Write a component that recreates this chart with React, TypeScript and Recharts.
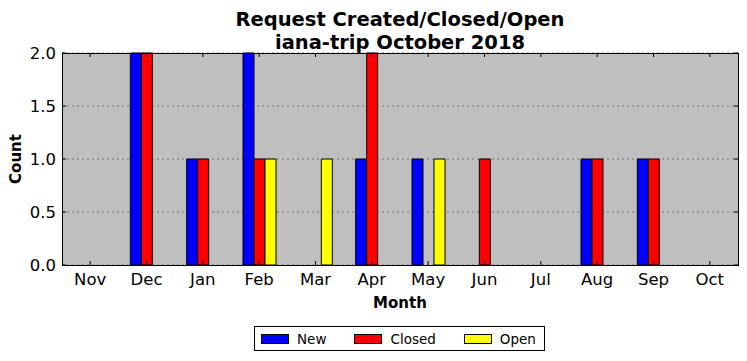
import { BarChart, Bar, XAxis, YAxis, CartesianGrid } from 'recharts';

const months = ['Nov', 'Dec', 'Jan', 'Feb', 'Mar', 'Apr', 'May', 'Jun', 'Jul', 'Aug', 'Sep', 'Oct'];
const newCounts = [0, 2, 1, 2, 0, 1, 1, 0, 0, 1, 1, 0];
const closedCounts = [0, 2, 1, 1, 0, 2, 0, 1, 0, 1, 1, 0];
const openCounts = [0, 0, 0, 1, 1, 0, 1, 0, 0, 0, 0, 0];
const yTicks = [0, 0.5, 1, 1.5, 2];

const SERIES = [
  { key: 'New', color: '#0000ff' },
  { key: 'Closed', color: '#ff0000' },
  { key: 'Open', color: '#ffff00' },
];

const W = 747;
const H = 361;
const PLOT_LEFT = 62;
const PLOT_TOP = 53;
const PLOT_W = 676;
const PLOT_H = 212;
const FONT = 'DejaVu Sans, sans-serif';

const data = months.map((m, i) => ({
  month: m,
  New: newCounts[i],
  Closed: closedCounts[i],
  Open: openCounts[i],
}));

function XTick({ x, y, payload }: any) {
  return (
    <g>
      <line x1={x} x2={x} y1={y} y2={y - 4} stroke="#000" />
      <line x1={x} x2={x} y1={y - PLOT_H} y2={y - PLOT_H + 4} stroke="#000" />
      <text x={x} y={y + 20} textAnchor="middle" fontSize={16.5} fontFamily={FONT} fill="#000">
        {payload.value}
      </text>
    </g>
  );
}

function YTick({ x, y, payload }: any) {
  return (
    <g>
      <line x1={x} x2={x + 4} y1={y} y2={y} stroke="#000" />
      <line x1={x + PLOT_W} x2={x + PLOT_W - 4} y1={y} y2={y} stroke="#000" />
      <text x={x - 6} y={y + 6} textAnchor="end" fontSize={16.5} fontFamily={FONT} fill="#000">
        {payload.value.toFixed(1)}
      </text>
    </g>
  );
}

export default function App() {
  return (
    <div style={{ position: 'absolute', left: 0, top: 0, width: W, height: H, background: '#fff', fontFamily: FONT }}>
      <div
        style={{
          position: 'absolute',
          left: PLOT_LEFT,
          width: PLOT_W,
          top: 8,
          textAlign: 'center',
          fontWeight: 'bold',
          fontSize: 19.5,
          lineHeight: '23px',
        }}
      >
        Request Created/Closed/Open
        <br />
        iana-trip October 2018
      </div>
      <div
        style={{
          position: 'absolute',
          left: 16,
          top: 159,
          transform: 'translate(-50%, -50%) rotate(-90deg)',
          fontWeight: 'bold',
          fontSize: 15,
          whiteSpace: 'nowrap',
        }}
      >
        Count
      </div>
      <div
        style={{
          position: 'absolute',
          left: PLOT_LEFT,
          width: PLOT_W,
          top: 294,
          textAlign: 'center',
          fontWeight: 'bold',
          fontSize: 15,
        }}
      >
        Month
      </div>
      <BarChart
        width={W}
        height={H}
        data={data}
        margin={{ top: PLOT_TOP, left: 0, right: W - PLOT_LEFT - PLOT_W, bottom: 0 }}
        barGap={0}
        barCategoryGap={11}
      >
        <CartesianGrid
          horizontal
          vertical={false}
          stroke="#777"
          strokeDasharray="2 3"
          fill="#bfbfbf"
          fillOpacity={1}
        />
        <XAxis
          dataKey="month"
          height={H - PLOT_TOP - PLOT_H}
          tickSize={0}
          tickMargin={0}
          axisLine={false}
          tick={<XTick />}
          interval={0}
        />
        <YAxis
          width={PLOT_LEFT}
          domain={[0, 2]}
          ticks={yTicks}
          tickSize={0}
          tickMargin={0}
          axisLine={false}
          tick={<YTick />}
          interval={0}
        />
        {SERIES.map((s) => (
          <Bar
            key={s.key}
            dataKey={s.key}
            fill={s.color}
            stroke="#000"
            strokeWidth={1}
            barSize={11}
            isAnimationActive={false}
          />
        ))}
      </BarChart>
      <div
        style={{
          position: 'absolute',
          left: PLOT_LEFT,
          top: PLOT_TOP,
          width: PLOT_W - 1,
          height: PLOT_H - 1,
          border: '1px solid #000',
          pointerEvents: 'none',
          boxSizing: 'content-box',
        }}
      />
      <div
        style={{
          position: 'absolute',
          left: 254,
          top: 326,
          width: 289,
          height: 23,
          border: '1px solid #000',
          display: 'flex',
          alignItems: 'center',
          fontSize: 13.5,
          boxSizing: 'content-box',
        }}
      >
        {SERIES.map((s, i) => (
          <div key={s.key} style={{ display: 'flex', alignItems: 'center', marginLeft: i === 0 ? 6 : 28 }}>
            <span
              style={{
                display: 'inline-block',
                width: 26,
                height: 8,
                background: s.color,
                border: '1px solid #000',
                marginRight: 8,
              }}
            />
            <span>{s.key}</span>
          </div>
        ))}
      </div>
    </div>
  );
}
